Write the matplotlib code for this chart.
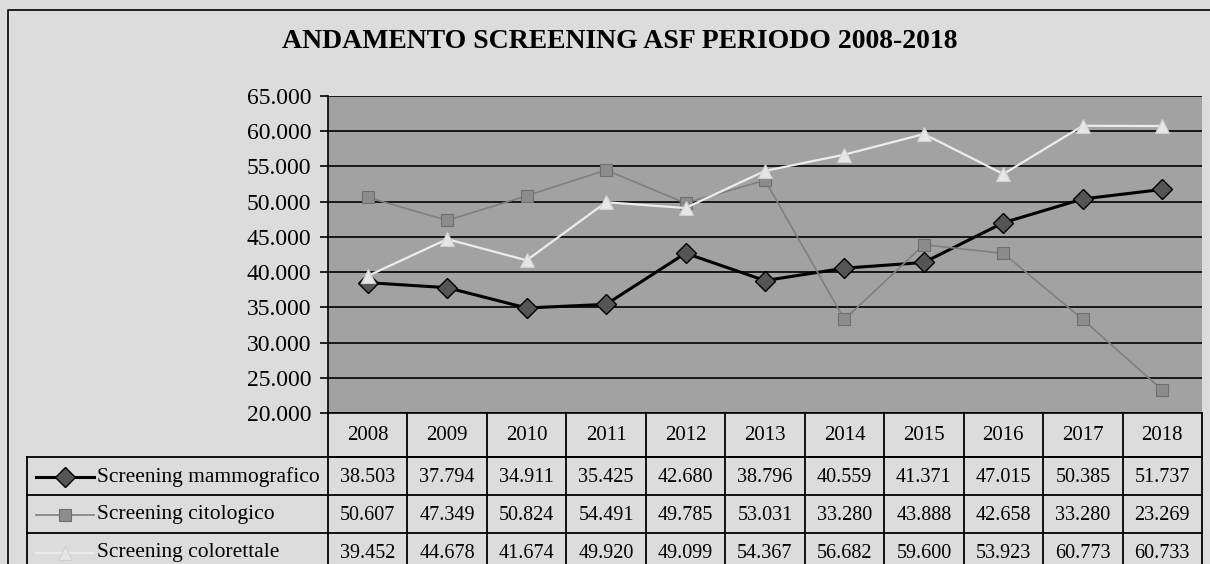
import matplotlib.pyplot as plt
import matplotlib.ticker as mticker

# data
anni = ['2008', '2009', '2010', '2011', '2012', '2013', '2014', '2015', '2016', '2017', '2018']
mammografico = [38503, 37794, 34911, 35425, 42680, 38796, 40559, 41371, 47015, 50385, 51737]
citologico = [50607, 47349, 50824, 54491, 49785, 53031, 33280, 43888, 42658, 33280, 23269]
colorettale = [39452, 44678, 41674, 49920, 49099, 54367, 56682, 59600, 53923, 60773, 60733]
nomi = ['Screening mammografico', 'Screening citologico', 'Screening colorettale']
serie = [mammografico, citologico, colorettale]

stili = [
    dict(color='black', lw=2.2, marker='D', ms=10, mfc='#555555', mec='black', mew=1.0),
    dict(color='#7f7f7f', lw=1.2, marker='s', ms=9, mfc='#8c8c8c', mec='#6e6e6e', mew=0.8),
    dict(color='#ececec', lw=1.6, marker='^', ms=10, mfc='#e6e6e6', mec='#d0d0d0', mew=0.8),
]

def fmt(v):
    return f'{v:,.0f}'.replace(',', '.')

plt.rcParams['font.family'] = ['Liberation Serif', 'DejaVu Serif']

W, H = 1210, 564
bg = '#dcdcdc'
fig = plt.figure(figsize=(W / 100, H / 100), dpi=100, facecolor=bg)

# plot area in pixels
px_l, px_r, px_t, px_b = 328, 1202, 96, 413
ax = fig.add_axes([px_l / W, 1 - px_b / H, (px_r - px_l) / W, (px_b - px_t) / H])
ax.set_facecolor('#a2a2a2')

x = list(range(len(anni)))
for s, st in zip(serie, stili):
    ax.plot(x, s, **st, zorder=3)

ax.set_xlim(-0.5, len(anni) - 0.5)
ax.set_ylim(20000, 65000)
ax.yaxis.set_major_locator(mticker.MultipleLocator(5000))
ax.yaxis.set_major_formatter(mticker.FuncFormatter(lambda v, p: fmt(v)))
ax.grid(axis='y', color='black', lw=1.2)
ax.set_axisbelow(True)
ax.set_xticks([])
ax.tick_params(axis='y', labelsize=17, length=6, width=1.2, pad=6)
for sp in ['top', 'right']:
    ax.spines[sp].set_visible(False)
ax.spines['left'].set_linewidth(1.2)
ax.spines['bottom'].set_linewidth(1.2)

# overlay for table, title and frame (pixel coordinates)
ov = fig.add_axes([0, 0, 1, 1], zorder=5)
ov.set_xlim(0, W)
ov.set_ylim(H, 0)
ov.axis('off')

ov.text(620, 42, 'ANDAMENTO SCREENING ASF PERIODO 2008-2018', ha='center', va='center',
        fontsize=20, fontweight='bold')

# outer frame
ov.plot([8, 8, W + 5], [H + 5, 10, 10], color='black', lw=1.2)

col_w = (px_r - px_l) / len(anni)
rows = [413, 457, 495, 533, 571]
lab_l = 27
lw_t = 1.3

# header row
ov.plot([px_l, px_r], [rows[1], rows[1]], color='black', lw=lw_t)
for i in range(len(anni) + 1):
    xx = px_l + i * col_w
    ov.plot([xx, xx], [rows[0], rows[-1]], color='black', lw=lw_t)
for i, a in enumerate(anni):
    ov.text(px_l + (i + 0.5) * col_w, (rows[0] + rows[1]) / 2 + 1, a,
            ha='center', va='center', fontsize=15)

# data rows
for r in range(1, len(rows) - 1):
    ov.plot([lab_l, px_r], [rows[r + 1], rows[r + 1]], color='black', lw=lw_t)
ov.plot([lab_l, px_r], [rows[1], rows[1]], color='black', lw=lw_t)
ov.plot([lab_l, lab_l], [rows[1], rows[-1]], color='black', lw=lw_t)

for r, (nome, s, st) in enumerate(zip(nomi, serie, stili)):
    yc = (rows[r + 1] + rows[r + 2]) / 2 + 1
    ov.plot([36, 94], [yc, yc], **{k: v for k, v in st.items() if k != 'marker'})
    ov.plot([65], [yc], **st)
    ov.text(97, yc, nome, ha='left', va='center', fontsize=15.5)
    for i, v in enumerate(s):
        ov.text(px_l + (i + 0.5) * col_w, yc, fmt(v), ha='center', va='center', fontsize=14.5)

fig.savefig('out.png', dpi=100, facecolor=bg)
